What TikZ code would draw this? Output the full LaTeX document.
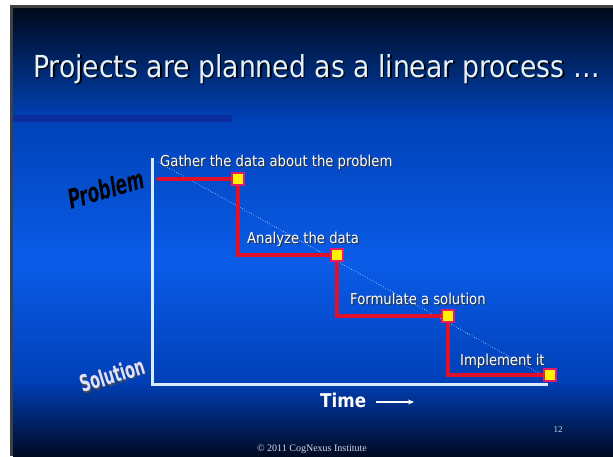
\documentclass[tikz,border=0pt]{standalone}
\usepackage{fontspec}
\setmainfont{DejaVu Sans}
\newfontfamily\tah[FakeStretch=0.88]{DejaVu Sans}
\newfontfamily\cond[FakeStretch=0.62]{DejaVu Sans}
\newfontfamily\slideserif{Liberation Serif}
\usetikzlibrary{arrows.meta}
\definecolor{titlec}{HTML}{E6F4FF}
\definecolor{axisc}{HTML}{D8ECFF}
\definecolor{stepred}{HTML}{E0102A}
\definecolor{markedge}{HTML}{E8186A}
\definecolor{markfill}{HTML}{FFF200}
\definecolor{barblue}{HTML}{0A2C9C}
\definecolor{bgA}{HTML}{000A1C}
\definecolor{bgB}{HTML}{0042B8}
\definecolor{bgC}{HTML}{0A5CE8}
\definecolor{bgD}{HTML}{0040B8}
\definecolor{bgE}{HTML}{000A22}
\definecolor{framegray}{HTML}{404040}
\definecolor{footc}{HTML}{D0D8E8}
\tikzset{
  lbl/.style={font=\tah\fontsize{15}{17}\selectfont, text=white, inner sep=0pt, anchor=west},
  lblshadow/.style={font=\tah\fontsize{15}{17}\selectfont, text=black!80, inner sep=0pt, anchor=west},
  marker/.style={draw=markedge, fill=markfill, line width=2.2pt, minimum size=11.5pt, inner sep=0pt},
  steppath/.style={draw=stepred, line width=3.8pt},
}
\begin{document}
\begin{tikzpicture}[x=1pt,y=-1pt]
\useasboundingbox (0,0) rectangle (613,456);
\fill[white] (0,0) rectangle (613,456);
\fill[framegray] (10,5) rectangle (613,456);
\shade[top color=bgA, bottom color=bgB] (13,8) rectangle (613,121);
\shade[top color=bgB, bottom color=bgC] (13,120) rectangle (613,261);
\shade[top color=bgC, bottom color=bgD] (13,260) rectangle (613,381);
\shade[top color=bgD, bottom color=bgE] (13,380) rectangle (613,456);
% title
\node[font=\tah\fontsize{30.3}{34}\selectfont, text=black, inner sep=0pt, anchor=west] (titles) at (34.5,70.5) {Projects are planned as a linear process …};
\node[font=\tah\fontsize{30.3}{34}\selectfont, text=titlec, inner sep=0pt, anchor=west] (title) at (33,69) {Projects are planned as a linear process …};
\fill[barblue] (13,115) rectangle (232,122);
% axes
\coordinate (axtop) at (152,158);
\coordinate (axend) at (548,384);
\draw[axisc, line width=3pt] (axtop) |- (axend);
% labels
\node[lblshadow] (l1s) at (161.2,163.2) {Gather the data about the problem};
\node[lbl] (l1) at (160,162) {Gather the data about the problem};
\node[lblshadow] (l2s) at (248.2,240.2) {Analyze the data};
\node[lbl] (l2) at (247,239) {Analyze the data};
\node[lblshadow] (l3s) at (351.2,300.2) {Formulate a solution};
\node[lbl] (l3) at (350,299) {Formulate a solution};
\node[lblshadow] (l4s) at (461.2,362.2) {Implement it};
\node[lbl] (l4) at (460,361) {Implement it};
% dotted diagonal
\coordinate (d0) at (158,162);
\coordinate (d1) at (548,378);
\draw[white, line width=0.6pt, dotted] (d0) -- (d1);
% step path
\coordinate (s0) at (157,179);
\coordinate (p1) at (238,179);
\coordinate (p2) at (337,255);
\coordinate (p3) at (448,316);
\coordinate (p4) at (550,375);
\draw[steppath] (s0) -- (p1) |- (p2) |- (p3) |- (p4);
\node[marker] (m1) at (p1) {};
\node[marker] (m2) at (p2) {};
\node[marker] (m3) at (p3) {};
\node[marker] (m4) at (p4) {};
% axis words
\node[font=\cond\fontsize{27}{30}\selectfont\bfseries\itshape, text=black, rotate=16, inner sep=0pt] (prob) at (106,189) {Problem};
\node[font=\cond\fontsize{23}{26}\selectfont\bfseries, text=black!70, rotate=17, inner sep=0pt] (sols) at (113,376.5) {Solution};
\node[font=\cond\fontsize{23}{26}\selectfont\bfseries, text=white!88!blue, rotate=17, inner sep=0pt] (sol) at (112,375) {Solution};
\node[font=\tah\fontsize{19}{22}\selectfont\bfseries, text=white, inner sep=0pt, anchor=west] (time) at (320,400) {Time};
\coordinate (ta) at (376,402);
\coordinate (tb) at (414,402);
\draw[white, line width=1.2pt, -{Stealth[length=6pt,width=5pt]}] (ta) -- (tb);
% footer
\node[font=\slideserif\fontsize{9}{10}\selectfont, text=footc, inner sep=0pt] (page) at (558,430) {12};
\node[font=\slideserif\fontsize{10}{12}\selectfont, text=footc, inner sep=0pt] (foot) at (312,449) {© 2011 CogNexus Institute};
\end{tikzpicture}
\end{document}
